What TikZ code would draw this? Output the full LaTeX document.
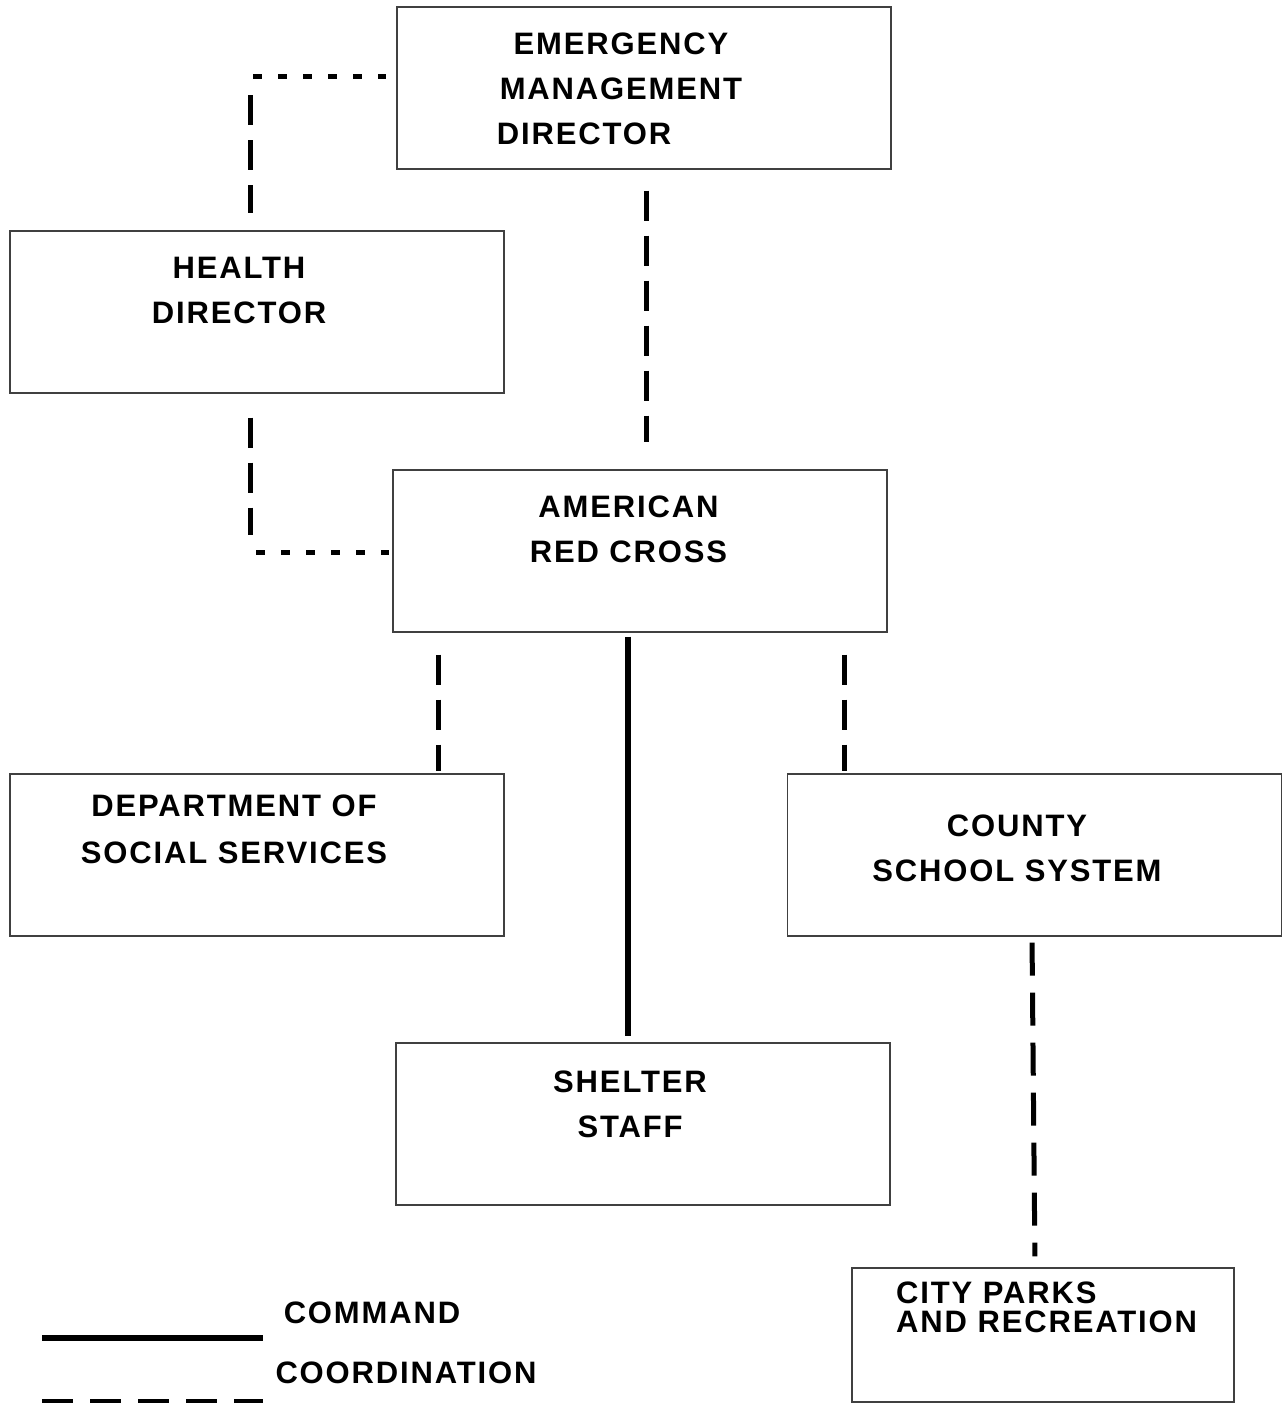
\documentclass[tikz,border=0pt]{standalone}
\usepackage{fontspec}
\newfontfamily\boxfont{Liberation Sans Bold}[LetterSpace=6]

\begin{document}
\begin{tikzpicture}[x=1pt,y=-1pt,
    unit/.style={draw=black!75,line width=1.2pt,minimum width=494pt,minimum height=162pt,inner sep=0pt},
    lbl/.style={font=\boxfont\fontsize{31}{45}\selectfont,align=center,anchor=north,inner sep=0pt},
    cmdline/.style={line width=6pt},
    coordline/.style={line width=5pt,dash pattern=on 30pt off 15pt},
    dotline/.style={line width=5pt,dash pattern=on 9pt off 16pt}]
      \useasboundingbox (0,0) rectangle (1287,1403);

      % boxes
      \node[unit] (EMD) at (644,88) {};
      \node[unit] (HD) at (257,312) {};
      \node[unit] (ARC) at (640,551) {};
      \node[unit] (DSS) at (257,855) {};
      \node[unit] (CSS) at (1034.5,855) {};
      \node[unit] (SS) at (643,1124) {};
      \node[unit,minimum width=382pt,minimum height=134pt] (CPR) at (1043,1335) {};

      % texts
      \node[lbl] (EMDt) at (621,33) {EMERGENCY\\MANAGEMENT\\\hspace*{-74pt}DIRECTOR};
      \node[lbl] (HDt) at (239,257) {HEALTH\\DIRECTOR};
      \node[lbl] (ARCt) at (628.5,496) {AMERICAN\\RED CROSS};
      \node[lbl,font=\boxfont\fontsize{31}{47}\selectfont] (DSSt) at (234,795) {DEPARTMENT OF\\SOCIAL SERVICES};
      \node[lbl] (CSSt) at (1017,815) {COUNTY\\SCHOOL SYSTEM};
      \node[lbl] (SSt) at (630,1071) {SHELTER\\STAFF};
      \node[lbl,anchor=north west,align=left,font=\boxfont\fontsize{31}{29}\selectfont] (CPRt) at (896,1282) {CITY PARKS\\AND RECREATION};

      % corners of the side links
      \coordinate (c1) at (250,76);
      \coordinate (c2) at (250,552);

      \draw[dotline,shorten <=3pt,shorten >=10pt] (c1) -- ([yshift=12pt]EMD.west);
      \draw[coordline,shorten <=19pt,shorten >=17pt] (c1) -- (c1 |- HD.north);
      \draw[coordline,shorten <=24pt,shorten >=17pt] (c2 |- HD.south) -- (c2);
      \draw[dotline,shorten <=6pt,shorten >=3pt] (c2) -- (c2 -| ARC.west);
      \draw[coordline,shorten <=21pt,shorten >=27pt] ([xshift=2pt]EMD.south) -- ([xshift=6pt]ARC.north);
      \draw[coordline,shorten <=22pt,shorten >=2pt] ([xshift=-202pt]ARC.south) -- ([xshift=181pt]DSS.north);
      \draw[coordline,shorten <=22pt,shorten >=2pt] ([xshift=204pt]ARC.south) -- ([xshift=-190.5pt]CSS.north);
      \draw[cmdline,shorten <=4pt,shorten >=6pt] ([xshift=-12pt]ARC.south) -- ([xshift=-15pt]SS.north);
      \draw[coordline,dash pattern=on 33pt off 17pt,shorten <=6pt,shorten >=11pt] ([xshift=-2.5pt]CSS.south) -- ([xshift=-8pt]CPR.north);

      % legend
      \node[lbl] (CMD) at (372,1302) {COMMAND};
      \node[lbl] (CRD) at (406,1362) {COORDINATION};
      \coordinate (k1) at (42,1338);
      \coordinate (k2) at (263,1338);
      \coordinate (k3) at (42,1402);
      \coordinate (k4) at (263,1402);
      \draw[cmdline] (k1) -- (k2);
      \draw[line width=6pt,dash pattern=on 31pt off 17pt] (k3) -- (k4);
    \end{tikzpicture}
\end{document}
